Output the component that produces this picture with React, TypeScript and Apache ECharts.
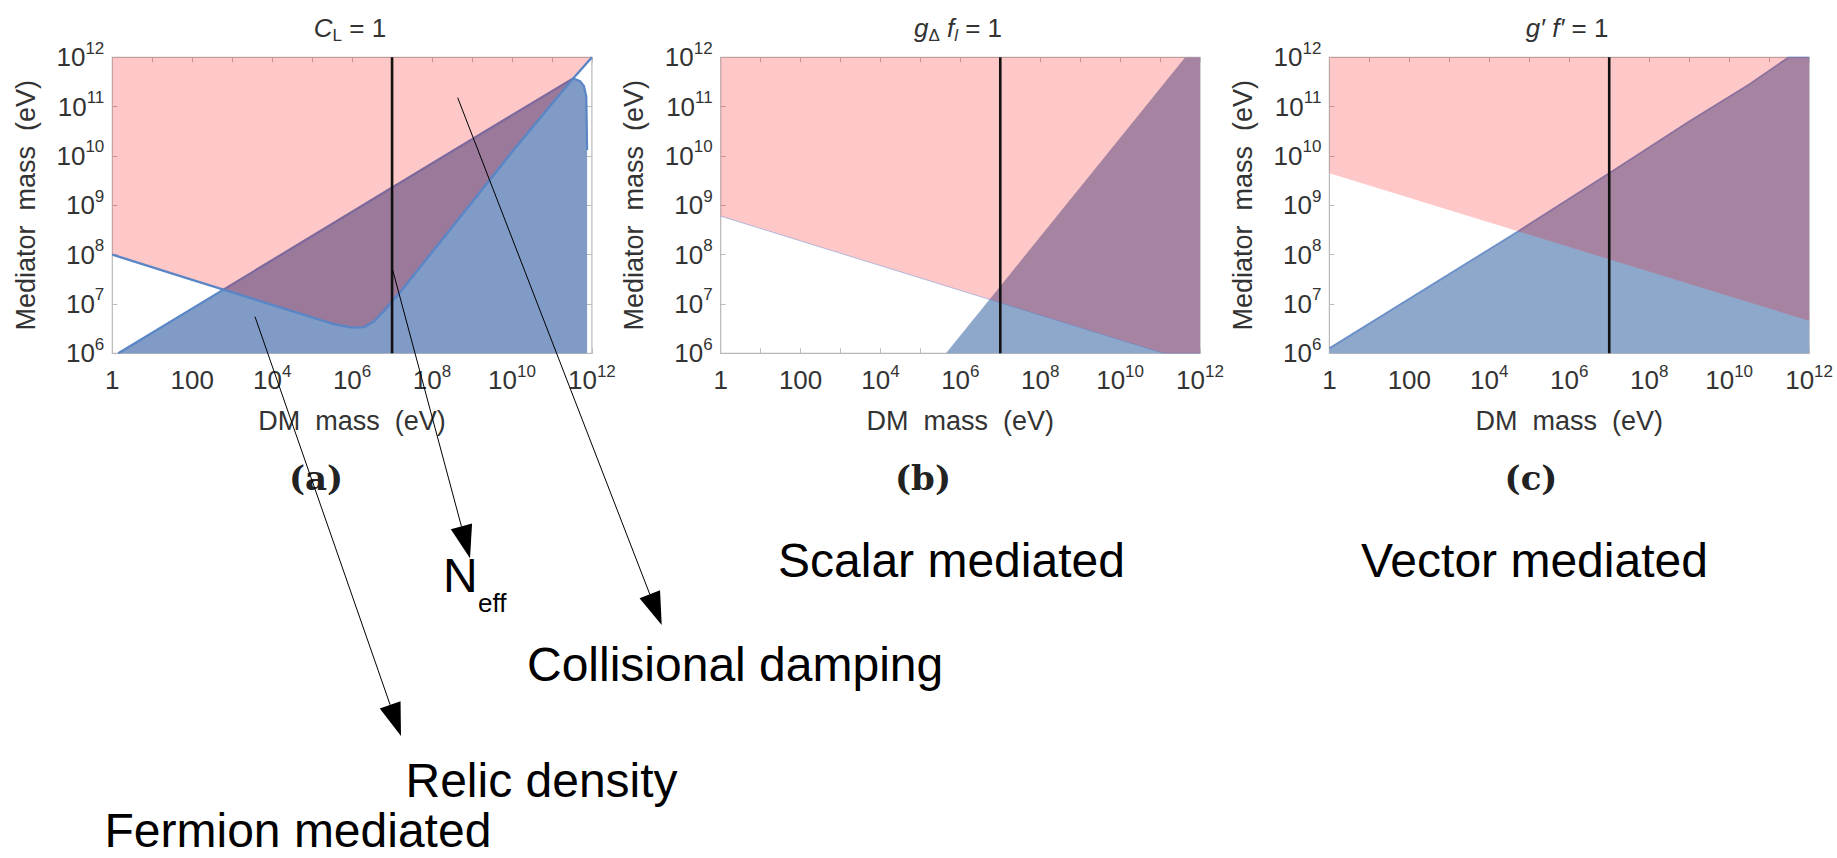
import React, { useEffect, useRef } from "react";
import * as echarts from "echarts";

// Region boundaries, as [log10(DM mass / eV), log10(mediator mass / eV)]

// (a) fermion mediated, C_L = 1
const fermionDampingEdge: number[][] = [
  [0, 8.0], [2, 7.49], [4, 6.98], [5.5, 6.6], [6.0, 6.52], [6.3, 6.53],
  [6.55, 6.65], [6.8, 6.86], [7.2, 7.24], [8, 8.05], [9, 9.06], [10, 10.08],
  [11, 11.06], [11.53, 11.57], [12, 12],
];
const fermionRelicEdge: number[][] = [
  [0.15, 6.0], [2.78, 7.29], [6, 8.87], [9, 10.34],
  [11.53, 11.57], [11.7, 11.52], [11.8, 11.42], [11.86, 11.2], [11.88, 10.12],
];
const fermionRelicFloor: number[][] = [[11.88, 6.0]];

// (b) scalar mediated, g_Δ f_l = 1
const scalarDampingEdge: number[][] = [[0, 8.78], [11.08, 6.0], [12, 6.0]];
const scalarRelicEdge: number[][] = [[5.64, 6.0], [11.63, 12.0], [12, 12.0]];

// (c) vector mediated, g' f' = 1
const vectorDampingEdge: number[][] = [[0, 9.65], [12, 6.66]];
const vectorRelicEdge: number[][] = [
  [0, 6.1], [4.72, 8.47], [7, 9.65], [9, 10.7], [10.5, 11.45], [11.49, 12.0], [12, 12.0],
];

// N_eff bound on the DM mass (log10 eV)
const neffDmMassLog = 7;

const xRange = [1, 1e12];
const yRange = [1e6, 1e12];

const SANS = '"Liberation Sans", Arial, Helvetica, sans-serif';
const PINK = "rgba(255,0,0,0.216)";
const TEXT = "#333";

const toEv = (pts: number[][]) => pts.map(([a, b]) => [Math.pow(10, a), Math.pow(10, b)]);

const grids = [
  { left: 112.3, top: 57.3, width: 479.6, height: 296 },
  { left: 720.7, top: 57.3, width: 479.3, height: 296 },
  { left: 1329.4, top: 57.3, width: 479.7, height: 296 },
];

const tickRich = {
  b: { fontSize: 26, lineHeight: 38, fontFamily: SANS, color: TEXT },
  s: { fontSize: 17, padding: [0, 0, 18, 0], fontFamily: SANS, color: TEXT },
};

function xLabel(v: number) {
  const e = Math.round(Math.log10(v));
  if (e % 2 !== 0) return "";
  if (e === 0) return "{b|1}";
  if (e === 2) return "{b|100}";
  return `{b|10}{s|${e}}`;
}

function yLabel(v: number) {
  const e = Math.round(Math.log10(v));
  return `{b|10}{s|${e}}`;
}

function arrow(from: number[], to: number[]) {
  const [x1, y1] = from;
  const [x2, y2] = to;
  const dx = x2 - x1;
  const dy = y2 - y1;
  const len = Math.hypot(dx, dy);
  const ux = dx / len;
  const uy = dy / len;
  const nx = -uy;
  const ny = ux;
  const headLen = 33;
  const headHalf = 11;
  const bx = x2 - ux * headLen;
  const by = y2 - uy * headLen;
  return [
    {
      type: "line", z: 100, silent: true,
      shape: { x1, y1, x2: bx, y2: by },
      style: { stroke: "#000", lineWidth: 1 },
    },
    {
      type: "polygon", z: 100, silent: true,
      shape: { points: [[x2, y2], [bx + nx * headHalf, by + ny * headHalf], [bx - nx * headHalf, by - ny * headHalf]] },
      style: { fill: "#000" },
    },
  ];
}

function label(text: string, x: number, y: number, size: number, extra: any = {}) {
  return {
    type: "text", z: 100, silent: true, x, y,
    style: {
      text, fontSize: size, fontFamily: SANS, fill: "#000",
      align: "left", verticalAlign: "middle", ...extra,
    },
  };
}

function buildOption() {
  const xAxis: any[] = [];
  const yAxis: any[] = [];
  grids.forEach((_, i) => {
    xAxis.push({
      type: "log", logBase: 10, gridIndex: i, min: xRange[0], max: xRange[1], interval: 1,
      axisLine: { show: false },
      axisTick: { inside: true, length: 5, lineStyle: { color: "#bbb" } },
      splitLine: { show: false },
      axisLabel: { formatter: xLabel, rich: tickRich, margin: 8, showMinLabel: true, showMaxLabel: true },
      name: "DM  mass  (eV)", nameLocation: "middle", nameGap: 54,
      nameTextStyle: { fontSize: 27, fontFamily: SANS, color: TEXT },
    });
    yAxis.push({
      type: "log", logBase: 10, gridIndex: i, min: yRange[0], max: yRange[1], interval: 1,
      axisLine: { show: false },
      axisTick: { inside: true, length: 5, lineStyle: { color: "#bbb" } },
      splitLine: { show: false },
      axisLabel: { formatter: yLabel, rich: tickRich, margin: 8, showMinLabel: true, showMaxLabel: true },
      name: "Mediator  mass  (eV)", nameLocation: "middle", nameGap: 73, nameRotate: 90,
      nameTextStyle: { fontSize: 27, fontFamily: SANS, color: TEXT },
    });
  });
  grids.forEach((_, i) => {
    xAxis.push({
      type: "log", logBase: 10, gridIndex: i, position: "top", min: xRange[0], max: xRange[1], interval: 1,
      axisLine: { show: false }, axisLabel: { show: false }, splitLine: { show: false },
      axisTick: { inside: true, length: 5, lineStyle: { color: "#bbb" } },
    });
    yAxis.push({
      type: "log", logBase: 10, gridIndex: i, position: "right", min: yRange[0], max: yRange[1], interval: 1,
      axisLine: { show: false }, axisLabel: { show: false }, splitLine: { show: false },
      axisTick: { inside: true, length: 5, lineStyle: { color: "#bbb" } },
    });
  });

  const base = { type: "line", symbol: "none", silent: true, smooth: false };
  const area = (i: number, pts: number[][], color: string, origin: string, z: number) => ({
    ...base, xAxisIndex: i, yAxisIndex: i, z, data: toEv(pts),
    lineStyle: { opacity: 0 }, areaStyle: { color, opacity: 1, origin },
  });
  const stroke = (i: number, pts: number[][], color: string, width: number, z: number) => ({
    ...base, xAxisIndex: i, yAxisIndex: i, z, data: toEv(pts),
    lineStyle: { color, width },
  });
  const neff = (i: number) =>
    stroke(i, [[neffDmMassLog, 6], [neffDmMassLog, 12]], "#111", 2.6, 9);

  const series: any[] = [
    // (a)
    area(0, [...fermionRelicEdge, ...fermionRelicFloor], "#7f9bc6", "start", 2),
    stroke(0, fermionRelicEdge, "#5a86c6", 2.2, 3),
    area(0, fermionDampingEdge, PINK, "end", 4),
    stroke(0, fermionDampingEdge, "#5a86c6", 2.4, 5),
    neff(0),
    // (b)
    area(1, scalarRelicEdge, "#8ea8cc", "start", 2),
    area(1, scalarDampingEdge, PINK, "end", 4),
    stroke(1, scalarDampingEdge, "rgba(90,130,205,0.45)", 1, 5),
    neff(1),
    // (c)
    area(2, vectorRelicEdge, "#8ea8cc", "start", 2),
    stroke(2, vectorRelicEdge, "#6b90c8", 1.8, 3),
    area(2, vectorDampingEdge, PINK, "end", 4),
    neff(2),
  ];

  const titleRich = {
    i: { fontSize: 26, fontStyle: "italic", fontFamily: SANS, color: TEXT },
    n: { fontSize: 26, fontFamily: SANS, color: TEXT },
    s: { fontSize: 17, padding: [15, 0, 0, 0], fontFamily: SANS, color: TEXT },
    si: { fontSize: 17, fontStyle: "italic", padding: [15, 0, 0, 0], fontFamily: SANS, color: TEXT },
  };
  const title = (text: string, x: number) => ({
    type: "text", z: 100, silent: true, x, y: 28,
    style: { text, rich: titleRich, align: "center", verticalAlign: "middle", fill: TEXT },
  });
  const panelTag = (text: string, x: number) => ({
    type: "text", z: 100, silent: true, x, y: 478,
    style: {
      text, fontSize: 34, fontWeight: "bold", fontFamily: '"DejaVu Serif", serif',
      fill: "#222", align: "center", verticalAlign: "middle",
    },
  });

  const graphic: any[] = [
    title("{i|C}{s|L}{n| = 1}", 350),
    title("{i|g}{s|Δ}{n| }{i|f}{si|l}{n| = 1}", 958),
    title("{i|g′ f′}{n| = 1}", 1567),
    panelTag("(a)", 316),
    panelTag("(b)", 923),
    panelTag("(c)", 1531),
    label("N", 443, 575, 48),
    label("eff", 478, 603, 26),
    label("Collisional damping", 527, 664.5, 48),
    label("Relic density", 405.5, 780, 48),
    label("Fermion mediated", 104.5, 830, 48),
    label("Scalar mediated", 778, 560, 48),
    label("Vector mediated", 1361, 560, 48),
    ...arrow([255, 316.7], [401, 736]),
    ...arrow([392.7, 270], [470, 558.3]),
    ...arrow([457.7, 97.7], [661.7, 625]),
  ];

  return {
    animation: false,
    backgroundColor: "#fff",
    grid: grids.map((g) => ({ ...g, show: true, borderColor: "#b8b8b8", borderWidth: 1.2, containLabel: false })),
    xAxis,
    yAxis,
    series,
    graphic,
  };
}

export default function App() {
  const ref = useRef<HTMLDivElement>(null);
  useEffect(() => {
    if (!ref.current) return;
    const chart = echarts.init(ref.current, null, { renderer: "svg" });
    chart.setOption(buildOption() as any);
    return () => chart.dispose();
  }, []);
  return (
    <div
      ref={ref}
      style={{ position: "absolute", left: 0, top: 0, width: 1837, height: 858, background: "#fff" }}
    />
  );
}
